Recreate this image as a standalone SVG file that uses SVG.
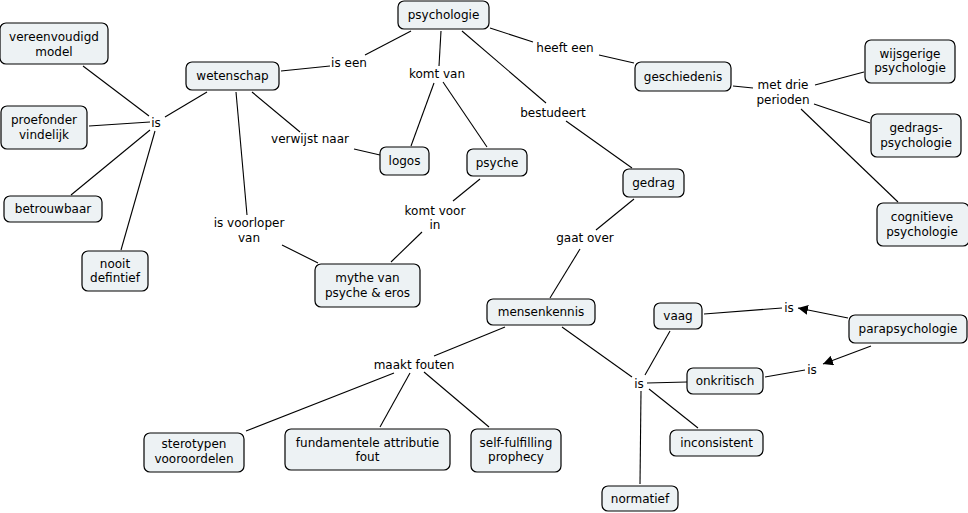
<svg xmlns="http://www.w3.org/2000/svg" width="968" height="513" viewBox="0 0 968 513">
<style>
.n rect{fill:#edf2f4;stroke:#000;stroke-width:1.2}
text{font-family:"DejaVu Sans",Verdana,sans-serif;font-size:12px;fill:#000;text-anchor:middle}
.c line{stroke:#000;stroke-width:1.1}
</style>
<defs>
<marker id="ah" viewBox="0 0 10 10" refX="10" refY="5" markerWidth="10" markerHeight="10" markerUnits="userSpaceOnUse" orient="auto">
<path d="M0,0 L10,5 L0,10 z" fill="#000"/>
</marker>
</defs>
<rect width="968" height="513" fill="#fff"/>
<g id="connectors" class="c">
<line x1="83" y1="66" x2="149" y2="116"/>
<line x1="89" y1="126" x2="150" y2="122"/>
<line x1="71" y1="195" x2="150" y2="130"/>
<line x1="121" y1="250" x2="155" y2="131"/>
<line x1="165" y1="117" x2="207" y2="92"/>
<line x1="281" y1="71" x2="330" y2="66"/>
<line x1="365" y1="55" x2="411" y2="31"/>
<line x1="441" y1="31" x2="439" y2="66"/>
<line x1="434" y1="83" x2="411" y2="146"/>
<line x1="443" y1="82" x2="487" y2="147"/>
<line x1="462" y1="31" x2="546" y2="103"/>
<line x1="566" y1="121" x2="632" y2="168"/>
<line x1="490" y1="28" x2="533" y2="42"/>
<line x1="599" y1="55" x2="634" y2="63"/>
<line x1="252" y1="92" x2="300" y2="132"/>
<line x1="354" y1="149" x2="380" y2="155"/>
<line x1="236" y1="92" x2="247" y2="215"/>
<line x1="282" y1="245" x2="318" y2="263"/>
<line x1="480" y1="179" x2="453" y2="201"/>
<line x1="422" y1="232" x2="391" y2="262"/>
<line x1="634" y1="199" x2="596" y2="230"/>
<line x1="580" y1="249" x2="550" y2="298"/>
<line x1="733" y1="86" x2="753" y2="88"/>
<line x1="815" y1="85" x2="864" y2="72"/>
<line x1="814" y1="104" x2="870" y2="123"/>
<line x1="801" y1="109" x2="898" y2="202"/>
<line x1="505" y1="327" x2="434" y2="356"/>
<line x1="394" y1="373" x2="246" y2="431"/>
<line x1="410" y1="373" x2="380" y2="427"/>
<line x1="424" y1="372" x2="489" y2="427"/>
<line x1="562" y1="327" x2="632" y2="377"/>
<line x1="645" y1="375" x2="670" y2="331"/>
<line x1="647" y1="383" x2="687" y2="382"/>
<line x1="649" y1="389" x2="698" y2="428"/>
<line x1="641" y1="391" x2="640" y2="484"/>
<line x1="704" y1="314" x2="782" y2="308"/>
<line x1="848" y1="318" x2="798" y2="308" marker-end="url(#ah)"/>
<line x1="871" y1="346" x2="823" y2="364" marker-end="url(#ah)"/>
<line x1="765" y1="377" x2="805" y2="370"/>
</g>
<g id="labels">
<text x="156" y="127">is</text>
<text x="349" y="67">is een</text>
<text x="437" y="78">komt van</text>
<text x="310" y="143">verwijst naar</text>
<text x="565" y="52">heeft een</text>
<text x="553" y="117">bestudeert</text>
<text x="783" y="89">met drie</text>
<text x="783" y="104">perioden</text>
<text x="249" y="227">is voorloper</text>
<text x="249" y="242">van</text>
<text x="435" y="215">komt voor</text>
<text x="435" y="229">in</text>
<text x="585" y="242">gaat over</text>
<text x="414" y="369">maakt fouten</text>
<text x="639" y="388">is</text>
<text x="789" y="312">is</text>
<text x="812" y="374">is</text>
</g>
<g id="psychologie" class="n"><rect x="398" y="1" width="91" height="28" rx="6"/><text x="443.5" y="19">psychologie</text></g>
<g id="vereenvoudigd-model" class="n"><rect x="0" y="23" width="108" height="41" rx="6"/><text x="54" y="41">vereenvoudigd</text><text x="54" y="56">model</text></g>
<g id="wetenschap" class="n"><rect x="186" y="62" width="93" height="28" rx="6"/><text x="232.5" y="80">wetenschap</text></g>
<g id="proefondervindelijk" class="n"><rect x="1" y="106" width="86" height="43" rx="6"/><text x="44" y="124">proefonder</text><text x="44" y="139">vindelijk</text></g>
<g id="betrouwbaar" class="n"><rect x="4" y="196" width="98" height="26" rx="6"/><text x="53" y="213">betrouwbaar</text></g>
<g id="nooit-defintief" class="n"><rect x="82" y="251" width="66" height="40" rx="6"/><text x="115" y="268">nooit</text><text x="115" y="282">defintief</text></g>
<g id="logos" class="n"><rect x="380" y="147" width="49" height="28" rx="6"/><text x="404.5" y="165">logos</text></g>
<g id="psyche" class="n"><rect x="467" y="149" width="60" height="27" rx="6"/><text x="497" y="166.5">psyche</text></g>
<g id="geschiedenis" class="n"><rect x="635" y="62" width="96" height="29" rx="6"/><text x="683" y="80.5">geschiedenis</text></g>
<g id="wijsgerige-psychologie" class="n"><rect x="865" y="40" width="90" height="43" rx="6"/><text x="910" y="58">wijsgerige</text><text x="910" y="72">psychologie</text></g>
<g id="gedragspsychologie" class="n"><rect x="871" y="114" width="90" height="43" rx="6"/><text x="916" y="132">gedrags-</text><text x="916" y="147">psychologie</text></g>
<g id="cognitieve-psychologie" class="n"><rect x="877" y="203" width="92" height="43" rx="6"/><text x="922" y="221">cognitieve</text><text x="922" y="236">psychologie</text></g>
<g id="gedrag" class="n"><rect x="623" y="169" width="61" height="28" rx="6"/><text x="653.5" y="187">gedrag</text></g>
<g id="mythe" class="n"><rect x="315" y="264" width="105" height="43" rx="6"/><text x="367.5" y="282">mythe van</text><text x="367.5" y="297">psyche &amp; eros</text></g>
<g id="mensenkennis" class="n"><rect x="487" y="299" width="108" height="26" rx="6"/><text x="541" y="316">mensenkennis</text></g>
<g id="sterotypen" class="n"><rect x="144" y="433" width="100" height="39" rx="6"/><text x="194" y="448">sterotypen</text><text x="194" y="463">vooroordelen</text></g>
<g id="fundamentele" class="n"><rect x="285" y="429" width="165" height="41" rx="6"/><text x="367.5" y="447">fundamentele attributie</text><text x="367.5" y="461">fout</text></g>
<g id="self-fulfilling" class="n"><rect x="471" y="429" width="90" height="43" rx="6"/><text x="516" y="447">self-fulfilling</text><text x="516" y="461">prophecy</text></g>
<g id="vaag" class="n"><rect x="654" y="303" width="48" height="26" rx="6"/><text x="678" y="320">vaag</text></g>
<g id="parapsychologie" class="n"><rect x="849" y="315" width="118" height="28" rx="6"/><text x="908" y="333">parapsychologie</text></g>
<g id="onkritisch" class="n"><rect x="687" y="368" width="76" height="26" rx="6"/><text x="725" y="385">onkritisch</text></g>
<g id="inconsistent" class="n"><rect x="670" y="430" width="93" height="26" rx="6"/><text x="716.5" y="447">inconsistent</text></g>
<g id="normatief" class="n"><rect x="602" y="486" width="76" height="25" rx="6"/><text x="640" y="502.5">normatief</text></g>
</svg>
